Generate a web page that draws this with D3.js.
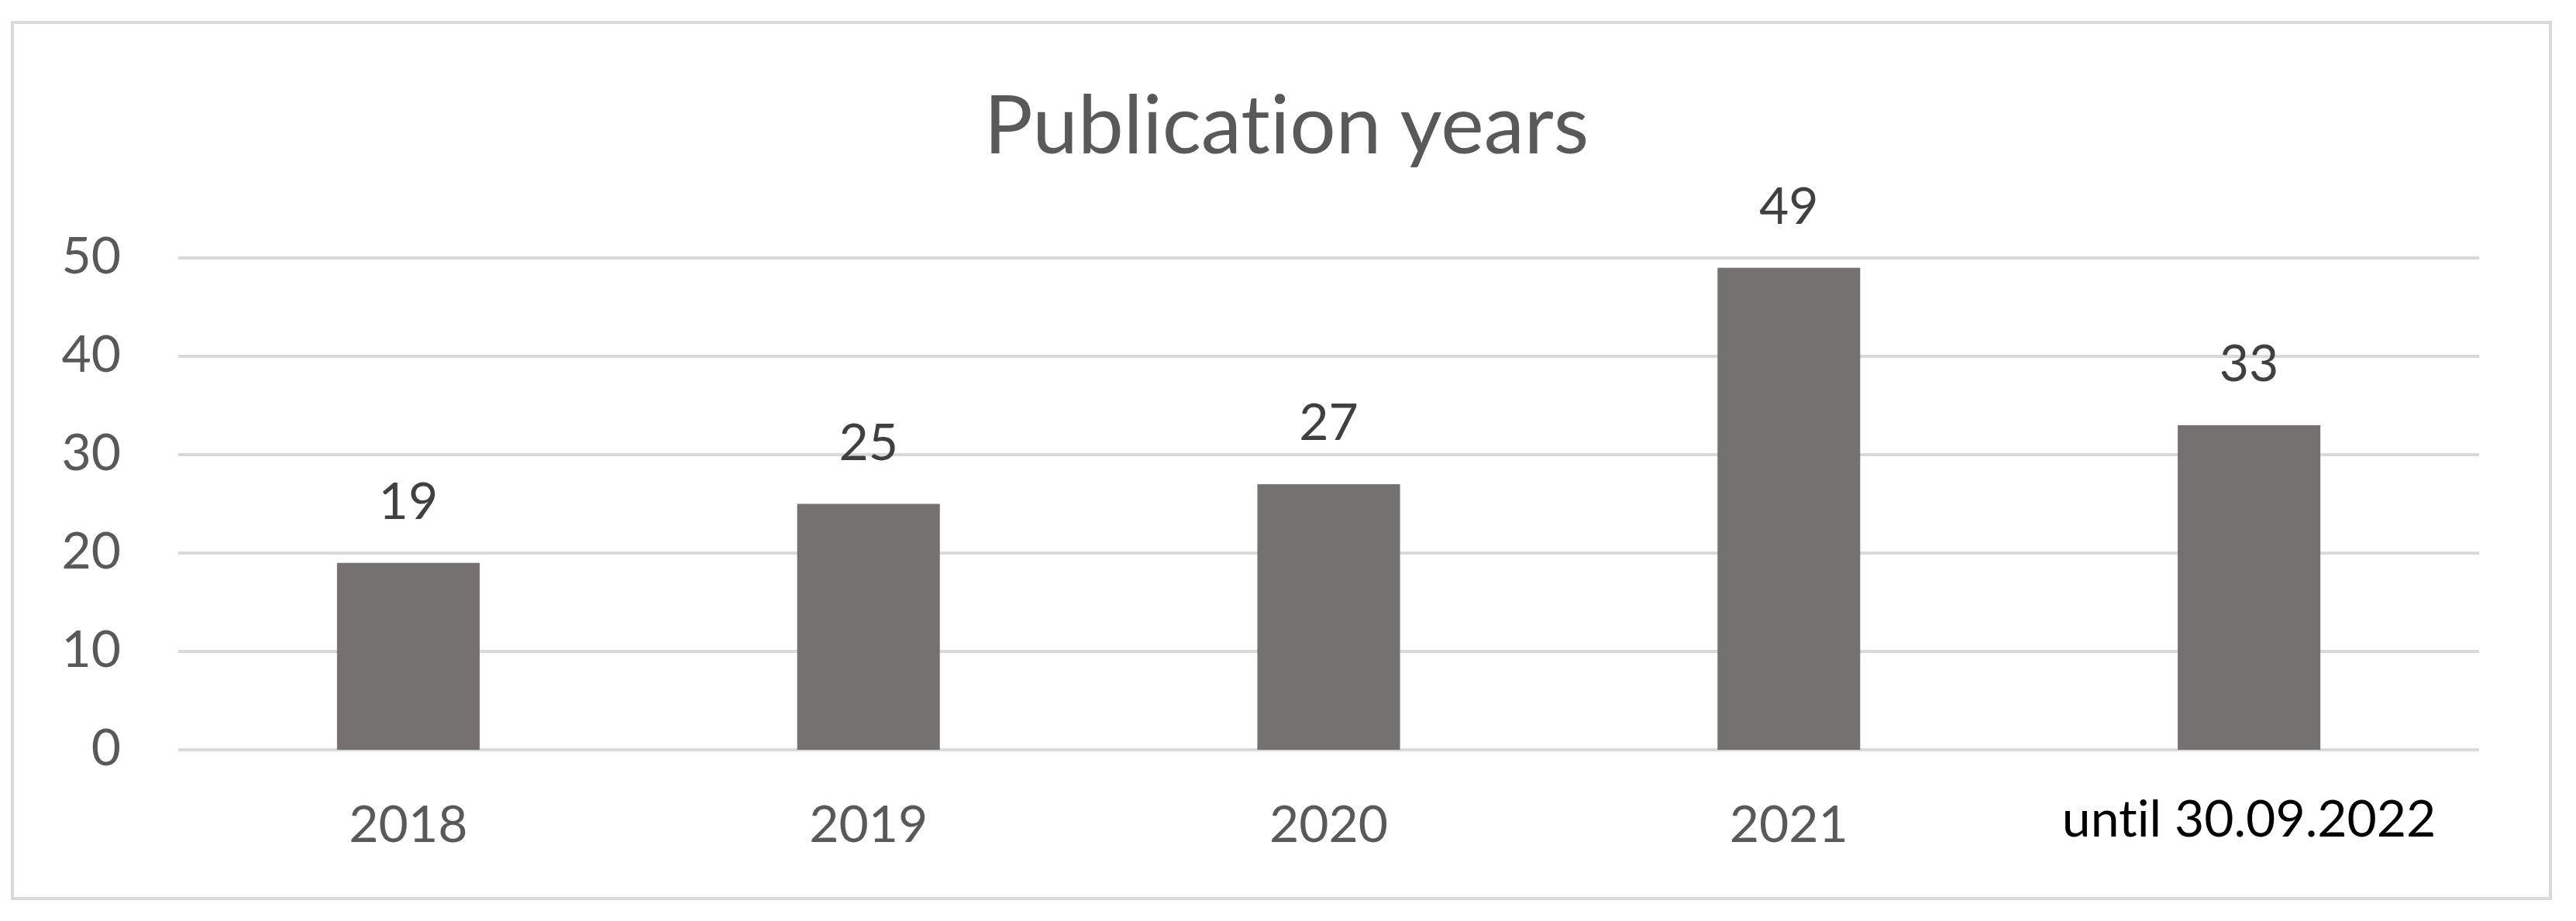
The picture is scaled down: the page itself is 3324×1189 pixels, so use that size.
<!DOCTYPE html>
<html>
<head>
<meta charset="utf-8">
<script src="https://cdn.jsdelivr.net/npm/d3@7"></script>
<style>
  html, body { margin: 0; padding: 0; background: #ffffff; }
  svg { display: block; }
  text { font-family: Lato, "Open Sans", sans-serif; font-variant-ligatures: none; }
</style>
</head>
<body>
<script>
// ---- data ----
const categories = ["2018", "2019", "2020", "2021", "until 30.09.2022"];
const values = [19, 25, 27, 49, 33];
const yTicks = [0, 10, 20, 30, 40, 50];
const title = "Publication years";

// ---- layout ----
const W = 3324, H = 1189;
const frame = { x0: 16, y0: 29, x1: 3291, y1: 1160 };
const plot = { left: 230, right: 3199, top: 333, bottom: 968 };

const svg = d3.select("body").append("svg")
  .attr("width", W).attr("height", H);

svg.append("rect")
  .attr("x", frame.x0).attr("y", frame.y0)
  .attr("width", frame.x1 - frame.x0).attr("height", frame.y1 - frame.y0)
  .attr("fill", "#ffffff").attr("stroke", "#d9d9d9").attr("stroke-width", 4);

const x = d3.scaleBand().domain(categories)
  .range([plot.left, plot.right]).paddingInner(0.69).paddingOuter(0.345);
const y = d3.scaleLinear().domain([0, 50]).range([plot.bottom, plot.top]);

// gridlines
svg.append("g").selectAll("line").data(yTicks).join("line")
  .attr("x1", plot.left).attr("x2", plot.right)
  .attr("y1", d => y(d)).attr("y2", d => y(d))
  .attr("stroke", "#d9d9d9").attr("stroke-width", 4);

// y axis labels
const yAxis = d3.axisLeft(y).tickValues(yTicks).tickSize(0).tickPadding(0);
const gy = svg.append("g").attr("transform", `translate(156,0)`).call(yAxis);
gy.select(".domain").remove();
gy.selectAll("text")
  .attr("font-family", "Lato, sans-serif")
  .attr("font-size", 66).attr("fill", "#595959").attr("dy", "0.3em");

// bars
svg.append("g").selectAll("rect").data(values).join("rect")
  .attr("x", (d, i) => x(categories[i]))
  .attr("width", x.bandwidth())
  .attr("y", d => y(d))
  .attr("height", d => y(0) - y(d))
  .attr("fill", "#767171");

// value labels
svg.append("g").selectAll("text").data(values).join("text")
  .attr("x", (d, i) => x(categories[i]) + x.bandwidth() / 2)
  .attr("y", d => y(d) - 57)
  .attr("text-anchor", "middle")
  .attr("font-size", 66).attr("fill", "#404040")
  .text(d => d);

// x axis labels
const xAxis = d3.axisBottom(x).tickSize(0).tickPadding(0);
const gx = svg.append("g").attr("transform", `translate(0,${plot.bottom})`).call(xAxis);
gx.select(".domain").remove();
gx.selectAll("text")
  .attr("font-family", "Lato, sans-serif")
  .attr("font-size", 66)
  .attr("dy", null)
  .attr("y", (d, i) => i === categories.length - 1 ? 112 : 119)
  .attr("fill", (d, i) => i === categories.length - 1 ? "#000000" : "#595959");

// title
svg.append("text")
  .attr("x", 1660).attr("y", 198)
  .attr("text-anchor", "middle")
  .attr("font-size", 105).attr("fill", "#595959")
  .text(title);
</script>
</body>
</html>
